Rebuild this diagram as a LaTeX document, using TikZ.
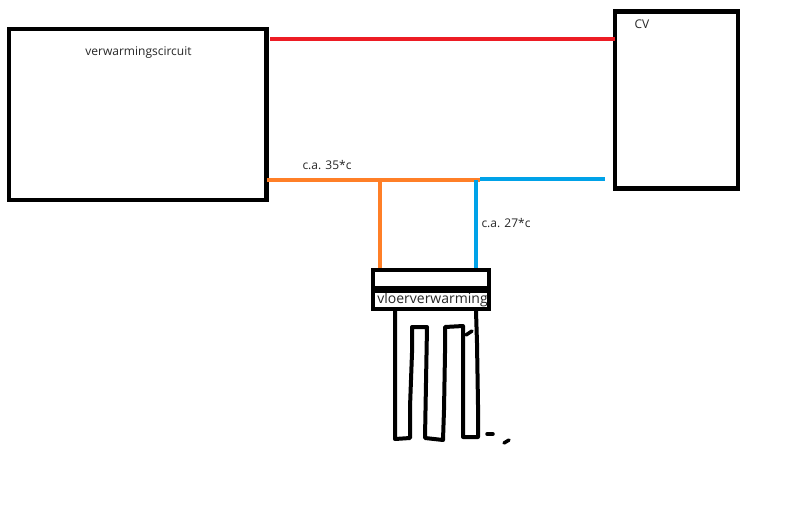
\documentclass[tikz,border=0pt]{standalone}
\usepackage{fontspec}
\setmainfont{Open Sans}
\definecolor{pipered}{RGB}{237,28,36}
\definecolor{pipeorange}{RGB}{255,127,39}
\definecolor{pipeblue}{RGB}{0,162,232}
\tikzset{
    x=1pt, y=-1pt,
    unit/.style = {draw, line width=4.5pt, inner sep=0pt, outer sep=0pt, anchor=north west},
    tag/.style = {font=\fontsize{12}{14}\selectfont, text=black!85, inner sep=0pt},
    pipe/.style = {line width=4pt},
    coil/.style = {line width=4pt, line join=round, line cap=round},
    speck/.style = {line width=3.5pt, line cap=round}
}
\begin{document}
\begin{tikzpicture}
    \useasboundingbox (0,0) rectangle (800,519);
    \node [unit, minimum width=257.5pt, minimum height=171pt] (circuit) at (9,29) {};
    \node [unit, minimum width=123pt, minimum height=177pt] (cv) at (615,11.5) {};
    \node [unit, minimum width=116pt, minimum height=39pt] (floor) at (373,270) {};
    \node [tag] (circuitlabel) at (138.5,53) {verwarmingscircuit};
    \node [tag] (cvlabel) at (642,24) {CV};
    \node [tag] (warmlabel) at (327,165.5) {c.a. 35*c};
    \node [tag] (coldlabel) at (506,223) {c.a. 27*c};
    \node [tag, font=\fontsize{14}{16}\selectfont] (floorlabel) at (432.5,300) {vloerverwarming};
    \coordinate (redleft) at (270,39);
    \coordinate (redright) at (615,39);
    \coordinate (orangeleft) at (267,180);
    \coordinate (orangeright) at (480,180);
    \coordinate (orangedown) at (380,180);
    \coordinate (orangefloor) at (380,268);
    \coordinate (blueleft) at (480,179);
    \coordinate (blueright) at (604.5,179);
    \coordinate (bluetop) at (476,180);
    \coordinate (bluefloor) at (476,268);
    \draw [pipe, pipered] (redleft) -- (redright);
    \draw [pipe, pipeorange] (orangeleft) -- (orangeright);
    \draw [pipe, pipeorange] (orangedown) -- (orangefloor);
    \draw [pipe, pipeblue] (blueleft) -- (blueright);
    \draw [pipe, pipeblue] (bluetop) -- (bluefloor);
    \draw [line width=7.5pt] (373,289.5) -- (489,289.5);
    \coordinate (coilstart) at (395,311);
    \coordinate (coilend) at (476,311);
    \draw [coil] (coilstart) -- (395,439) -- (410,438) -- (410,407) -- (412,353) -- (412,327) -- (427,327)
        -- (425,438) -- (443,440) -- (444,410) -- (445,353) -- (445,327) -- (463,326)
        -- (463,437) -- (478,437) -- (478,405) -- (477,343) -- (coilend);
    \draw [speck] (466,335) -- (472,331);
    \draw [speck] (487,434) -- (493,434);
    \draw [speck] (504,443) -- (509,440);
\end{tikzpicture}
\end{document}
